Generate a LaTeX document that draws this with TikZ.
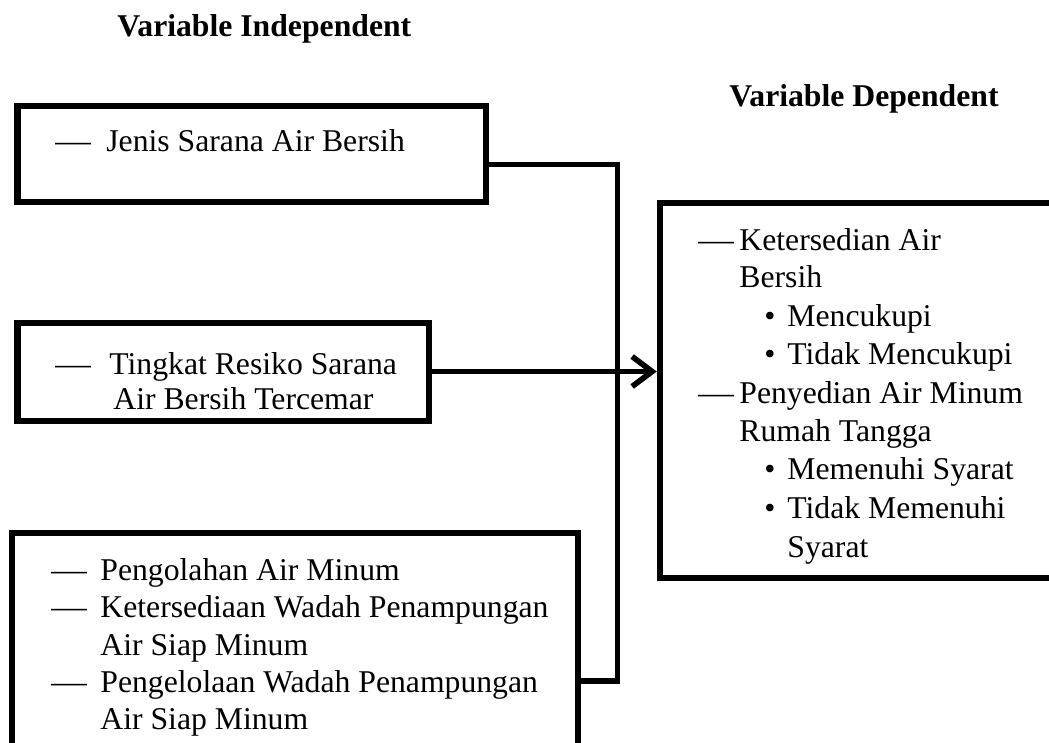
\documentclass[tikz,border=0pt]{standalone}
\usepackage{fontspec}
\setmainfont{Liberation Serif}
\usetikzlibrary{arrows.meta,fit}
\newcommand{\mydash}{\scalebox{1.12}[1]{—}}
\tikzset{
  box/.style={draw, line width=3.2pt, inner sep=0pt},
  conn/.style={line width=2.8pt, line join=miter},
  txt/.style={anchor=base west, inner sep=0pt, font=\fontsize{15.85pt}{19pt}\selectfont},
  head/.style={anchor=base west, inner sep=0pt, font=\fontsize{15.85pt}{19pt}\selectfont\bfseries},
}
\begin{document}
\begin{tikzpicture}[x=0.5pt,y=-0.5pt]
\useasboundingbox (0,0) rectangle (1049,743);
\clip (0,0) rectangle (1049,743);

% headings
\node[head] (h1) at (117,37) {Variable Independent};
\node[head] (h2) at (729,107) {Variable Dependent};

% boxes
\node[box, fit={(17.5,106) (486,202)}] (b1) {};
\node[box, fit={(17.5,323) (429,421)}] (b2) {};
\node[box, fit={(12,533) (578,800)}] (b3) {};
\node[box, fit={(660,203) (1100,578)}] (b4) {};

% box 1 text
\node[txt] (d1) at (55,152) {\mydash};
\node[txt] (t1) at (106,152) {Jenis Sarana Air Bersih};

% box 2 text
\node[txt] (d2) at (55,374) {\mydash};
\node[txt] (t2a) at (109,374) {Tingkat Resiko Sarana};
\node[txt] (t2b) at (113,409) {Air Bersih Tercemar};

% box 3 text
\node[txt] (d3a) at (51,580) {\mydash};
\node[txt] (t3a) at (100,580) {Pengolahan Air Minum};
\node[txt] (d3b) at (51,617) {\mydash};
\node[txt] (t3b) at (100,617) {Ketersediaan Wadah Penampungan};
\node[txt] (t3c) at (100,655) {Air Siap Minum};
\node[txt] (d3c) at (51,692) {\mydash};
\node[txt] (t3d) at (100,692) {Pengelolaan Wadah Penampungan};
\node[txt] (t3e) at (100,729) {Air Siap Minum};

% box 4 text
\node[txt] (d4a) at (698,250) {\mydash};
\node[txt] (t4a) at (739,250) {Ketersedian Air};
\node[txt] (t4b) at (739,287) {Bersih};
\node[txt] (p4a) at (764,326) {•};
\node[txt] (t4c) at (787,326) {Mencukupi};
\node[txt] (p4b) at (764,364) {•};
\node[txt] (t4d) at (787,364) {Tidak Mencukupi};
\node[txt] (d4b) at (698,403) {\mydash};
\node[txt] (t4e) at (739,403) {Penyedian Air Minum};
\node[txt] (t4f) at (739,441) {Rumah Tangga};
\node[txt] (p4c) at (764,479) {•};
\node[txt] (t4g) at (787,479) {Memenuhi Syarat};
\node[txt] (p4d) at (764,518) {•};
\node[txt] (t4h) at (787,518) {Tidak Memenuhi};
\node[txt] (t4i) at (787,557) {Syarat};

% connectors
\coordinate (j1) at (617.5,164.5);
\coordinate (j3) at (617.5,681);
\coordinate (a2) at (0,371.5);
\draw[conn] (b1.east |- j1) -- (j1) -- (j3) -- (b3.east |- j3);
\draw[conn, -{Straight Barb[length=10pt,width=15pt]}] (b2.east |- a2) -- (b4.west |- a2);
\end{tikzpicture}
\end{document}
